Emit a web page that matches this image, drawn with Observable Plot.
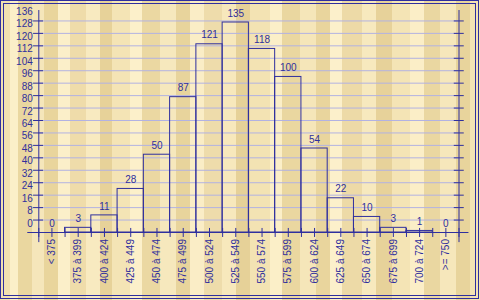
<!DOCTYPE html>
<html>
<head>
<meta charset="utf-8">
<script src="https://cdn.jsdelivr.net/npm/d3@7"></script>
<script src="https://cdn.jsdelivr.net/npm/@observablehq/plot@0.6"></script>
<style>
  html, body { margin: 0; padding: 0; }
  body {
    width: 480px; height: 300px; position: relative; overflow: hidden;
    background: linear-gradient(90deg,
      #f1e1b0 0 10px, #fbefc8 10px 18px, #ead7a0 18px 32px, #f5e6ba 32px 44px,
      #e9d59c 44px 58px, #fbefc9 58px 70px, #efdcaa 70px 86px, #f8eac0 86px 100px,
      #e7d299 100px 112px, #f4e4b5 112px 130px, #fcf0ca 130px 142px, #ebd8a2 142px 160px,
      #f6e8bd 160px 176px, #e8d49c 176px 190px, #faedc6 190px 204px, #eedcab 204px 222px,
      #f7e8bc 222px 236px, #e6d198 236px 250px, #f3e3b3 250px 270px, #fbefc8 270px 282px,
      #ead7a0 282px 300px, #f5e6b9 300px 316px, #e9d59d 316px 330px, #fcf0cb 330px 342px,
      #eddaa7 342px 362px, #f7e9be 362px 376px, #e7d29a 376px 392px, #f4e4b5 392px 410px,
      #fbeec7 410px 424px, #ead7a1 424px 440px, #f6e7bb 440px 456px, #e8d49c 456px 470px,
      #f4e4b4 470px 480px);
  }
  .frame { position: absolute; box-sizing: border-box; border: 1px solid #2f2f9e; pointer-events: none; }
  #chart { position: absolute; left: 0; top: 0; }
</style>
</head>
<body>
<div class="frame" style="left:0;top:0;width:479px;height:299px;"></div>
<div class="frame" style="left:3px;top:3px;width:473px;height:293px;"></div>
<div id="chart"></div>
<script>
// Data
const categories = ["< 375", "375 à 399", "400 à 424", "425 à 449", "450 à 474", "475 à 499",
  "500 à 524", "525 à 549", "550 à 574", "575 à 599", "600 à 624", "625 à 649",
  "650 à 674", "675 à 699", "700 à 724", ">= 750"];
const counts = [0, 3, 11, 28, 50, 87, 121, 135, 118, 100, 54, 22, 10, 3, 1, 0];
// y-axis tick labels as printed on the original (they sit 8 units above the bar baseline)
const yTickLabels = [0, 8, 16, 24, 32, 40, 48, 56, 64, 72, 80, 88, 96, 104, 112, 120, 128, 136];
const yLabelOffset = 8;

const blue = "#2f2f9e";
const grid = "#b2b2e2";

const bars = categories.map((c, i) => ({cat: c, i, x1: i, x2: i + 1, xm: i + 0.5, v: counts[i]}));
const yTicks = yTickLabels.map(l => ({label: l, y: l + yLabelOffset}));
const yTicksDrawn = yTicks.filter(d => d.label <= 128);
const xTicks = d3.range(0, 16.5, 0.5);

const plot = Plot.plot({
  width: 480,
  height: 300,
  marginLeft: 38.3,
  marginRight: 21.5,
  marginTop: 8,
  marginBottom: 68,
  x: {type: "linear", domain: [0, 16], axis: null},
  y: {domain: [0, 144], axis: null},
  style: {background: "transparent", fontFamily: "'Liberation Sans', Arial, sans-serif", fontSize: "10px", color: blue},
  marks: [
    // gridlines
    Plot.ruleY(yTicksDrawn, {y: "y", x1: 0, x2: 16, stroke: grid}),
    // bars (outlined histogram)
    Plot.rectY(bars, {x1: "x1", x2: "x2", y1: 0, y2: "v", fill: "none", stroke: blue}),
    // y axes lines
    Plot.ruleX([0, 16], {y1: -6.5, y2: 142.7, stroke: blue}),
    // y ticks left and right
    Plot.ruleY(yTicksDrawn, {y: "y", x1: -0.2, x2: 0.18, stroke: blue}),
    Plot.ruleY(yTicksDrawn, {y: "y", x1: 15.82, x2: 16.2, stroke: blue}),
    // y tick labels
    Plot.text(yTicks, {y: "y", text: d => String(d.label), frameAnchor: "left", textAnchor: "end", dx: -6, dy: 3.3, fill: blue}),
    // x axis line
    Plot.ruleY([0], {x1: -0.42, x2: 16.38, stroke: blue}),
    // x ticks (boundaries and centers)
    Plot.ruleX(xTicks, {y1: -3.2, y2: 2.6, stroke: blue}),
    // category labels
    Plot.text(bars, {x: "xm", y: -4.2, text: "cat", rotate: -90, textAnchor: "end", fill: blue}),
    // value labels
    Plot.text(bars, {x: "xm", y: "v", text: d => String(d.v), dy: -9, fill: blue})
  ]
});
document.getElementById("chart").appendChild(plot);
</script>
</body>
</html>
